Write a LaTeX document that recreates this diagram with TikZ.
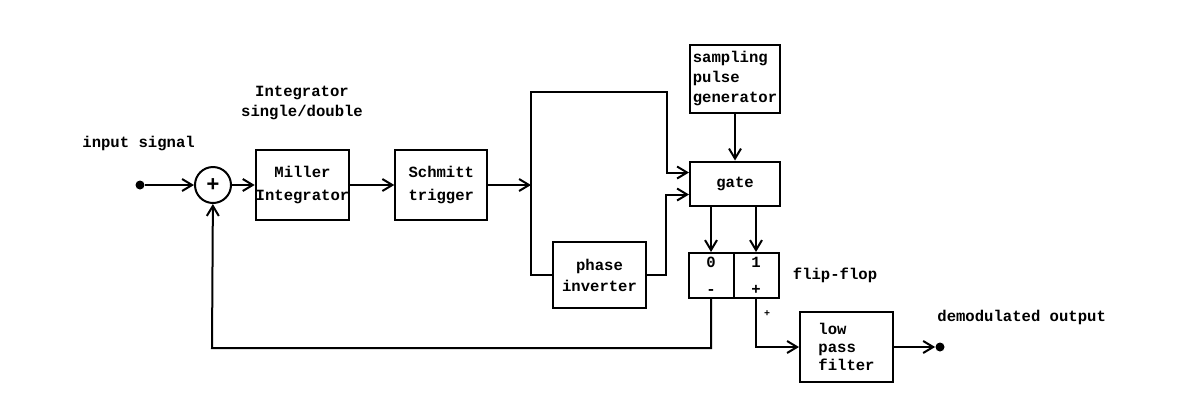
\documentclass[tikz,border=0pt]{standalone}
\usepackage{fontspec}
\setmonofont{Liberation Mono}
\usetikzlibrary{arrows.meta,positioning,calc}
\tikzset{
    line/.style    = {-{Straight Barb[length=5pt,width=6pt]}, line width=1pt},
    wire/.style    = {line width=1pt, line cap=rect},
    txt/.style     = {font=\ttfamily\bfseries\fontsize{7.8}{10}\selectfont,
            inner sep=0pt, align=center},
    block/.style   = {draw, line width=1pt, txt,
            minimum width=46pt, minimum height=35pt},
    sumnode/.style = {circle, draw, line width=1pt, minimum size=18pt, inner sep=0pt},
    dot/.style     = {circle, fill, minimum size=4.5pt, inner sep=0pt},
}
\begin{document}
\begin{tikzpicture}[x=0.5pt, y=-0.5pt]
    \useasboundingbox (0,0) rectangle (1184,403);
    % Nodes
    \node[dot] (in) at (140,185) {};
    \node[sumnode, font=\ttfamily\bfseries\fontsize{11}{11}\selectfont] (sum) at (213,185) {+};
    \node[block, minimum width=45.5pt] (miller) at (302.5,185) {Miller\\[1.5pt]Integrator};
    \node[block, right=22pt of miller] (schmitt) {Schmitt\\[1.5pt]trigger};
    \node[block, minimum width=45pt, minimum height=22pt] (gate) at (735,183.5) {gate};
    \node[block, minimum width=45pt, minimum height=34pt, above=23.5pt of gate,
        align=left] (sampler) {sampling\\pulse\\generator};
    \node[block, minimum width=46.5pt, minimum height=33pt] (phase) at (599.5,275) {phase\\[0.5pt]inverter};
    \node[block, minimum width=22.5pt, minimum height=22.5pt] (ffl) at (711,275.5) {0\\[3.5pt]-};
    \node[block, minimum width=22.5pt, minimum height=22.5pt, right=-1pt of ffl] (ffr) {1\\[3.5pt]+};
    \node[block, minimum width=46.5pt, minimum height=35pt, align=left] (lpf) at (846.5,347)
        {low\\[-1pt]pass\\[-1pt]filter};
    \node[dot] (out) at (940,347) {};

    % Labels
    \node[txt, anchor=west] (inlabel) at (82,143) {input signal};
    \node[txt] (intlabel) at (302,103) {Integrator\\single/double};
    \node[txt, right=6.5pt of ffr] (fflabel) {flip-flop};
    \node[txt, anchor=west] (outlabel) at (937,317) {demodulated output};
    \node[txt, font=\ttfamily\bfseries\fontsize{5}{6}\selectfont] (plus) at (767,314) {+};

    \coordinate (split) at (531,185);
    \coordinate (splittop) at (531,92);
    \coordinate (splitbot) at (531,275);
    \coordinate (bendtop) at (667,92);
    \coordinate (bendbot) at (666,275);
    \coordinate (fb) at (212,348);

    % Arrows
    \draw[line] (in) -- (sum);
    \draw[line] (sum) -- (miller);
    \draw[line] (miller) -- (schmitt);
    \draw[line] (schmitt) -- (split);
    \draw[wire] (splittop) -- (splitbot);
    \draw[line] (splittop) -- (bendtop) |- ([yshift=5.5pt]gate.west);
    \draw[wire] (splitbot) -- (phase);
    \draw[line] (phase) -- (bendbot) |- ([yshift=-5.5pt]gate.west);
    \draw[line] (sampler) -- (gate);
    \draw[line] (gate.south -| ffl) -- (ffl);
    \draw[line] (gate.south -| ffr) -- (ffr);
    \draw[line] (ffl) |- (fb) -- (sum);
    \draw[line] (ffr) |- (lpf);
    \draw[line] (lpf) -- (out);
\end{tikzpicture}
\end{document}
